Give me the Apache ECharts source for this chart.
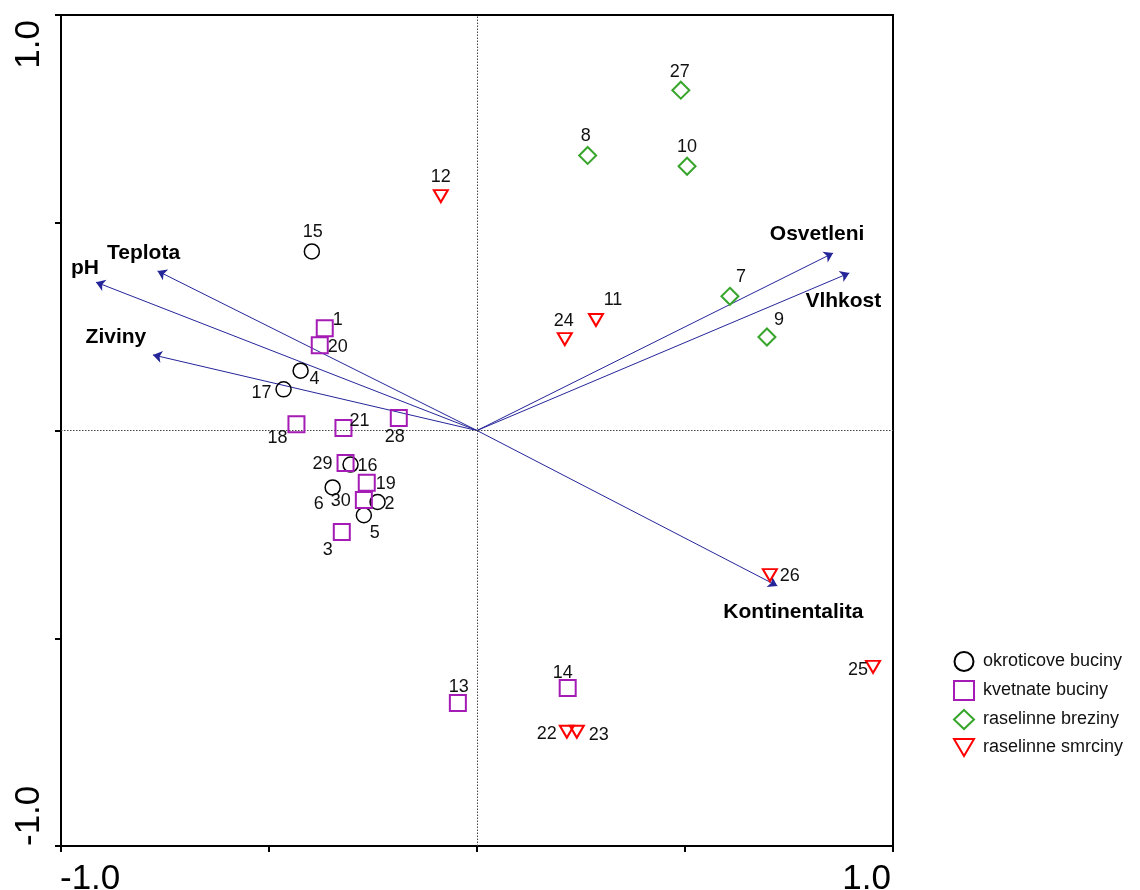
<!DOCTYPE html>
<html>
<head>
<meta charset="utf-8">
<script src="https://cdn.jsdelivr.net/npm/echarts@6/dist/echarts.min.js"></script>
<style>
html,body{margin:0;padding:0;background:#fff;}
#chart{width:1140px;height:890px;}
</style>
</head>
<body>
<div id="chart"></div>
<script>
// ---- data ----
const groupNames = ['okroticove buciny', 'kvetnate buciny', 'raselinne breziny', 'raselinne smrciny'];

const okrIds = ['15', '4', '17', '16', '6', '2', '5'];
const okrX = [-0.397, -0.424, -0.465, -0.304, -0.347, -0.239, -0.272];
const okrY = [0.431, 0.144, 0.099, -0.082, -0.137, -0.172, -0.204];

const kvtIds = ['1', '20', '18', '21', '28', '29', '19', '30', '3', '13', '14'];
const kvtX = [-0.366, -0.378, -0.434, -0.321, -0.188, -0.316, -0.265, -0.272, -0.325, -0.046, 0.218];
const kvtY = [0.246, 0.205, 0.015, 0.006, 0.030, -0.078, -0.126, -0.167, -0.244, -0.656, -0.620];

const brzIds = ['27', '8', '10', '7', '9'];
const brzX = [0.490, 0.266, 0.505, 0.608, 0.697];
const brzY = [0.819, 0.662, 0.636, 0.323, 0.225];

const smrIds = ['12', '11', '24', '26', '25', '22', '23'];
const smrX = [-0.087, 0.286, 0.211, 0.704, 0.952, 0.216, 0.240];
const smrY = [0.564, 0.266, 0.220, -0.348, -0.569, -0.725, -0.725];

const envNames = ['Teplota', 'pH', 'Ziviny', 'Osvetleni', 'Vlhkost', 'Kontinentalita'];
const envX = [-0.768, -0.916, -0.779, 0.856, 0.895, 0.722];
const envY = [0.384, 0.357, 0.182, 0.427, 0.379, -0.374];

const axisMin = -1, axisMax = 1, axisStep = 0.5;
const tickLabels = ['-1.0', '1.0'];

// ---- layout (label offsets in px, relative to the mark) ----
const labelOffset = {
  '15': [1, -19], '4': [14, 8], '17': [-22, 4], '16': [17, 1], '6': [-14, 17], '2': [12, 2], '5': [11, 18],
  '1': [13, -8], '20': [18, 2], '18': [-19, 14], '21': [16, -7], '28': [-4, 19], '29': [-23, 1],
  '19': [19, 1], '30': [-23, 1], '3': [-14, 18], '13': [1, -16], '14': [-5, -15],
  '27': [-1, -18], '8': [-2, -19], '10': [0, -19], '7': [11, -19], '9': [12, -17],
  '12': [0, -19], '11': [17, -20], '24': [-1, -18], '26': [20, 1], '25': [-15, 3], '22': [-20, 2], '23': [22, 3]
};
const envLabelOffset = {
  'Teplota': [-14, -18], 'pH': [-11, -14], 'Ziviny': [-37, -18],
  'Osvetleni': [-16, -19], 'Vlhkost': [-6, 28], 'Kontinentalita': [16, 26]
};

const FONT = '"Liberation Sans", Arial, sans-serif';
const ptLabel = {show: true, position: 'inside', fontSize: 18, fontFamily: FONT, color: '#111', textBorderWidth: 0, opacity: 1};

function pts(ids, xs, ys) {
  return ids.map((id, i) => ({
    value: [xs[i], ys[i]], name: id,
    label: {offset: labelOffset[id] || [0, -18]}
  }));
}

const groupStyles = [
  {symbol: 'circle', size: 15, color: '#000000', rotate: 0, bw: 1.5, icon: 'circle'},
  {symbol: 'rect', size: 16, color: '#a51bb5', rotate: 0, bw: 2, icon: 'rect'},
  {symbol: 'diamond', size: 17, color: '#37a52b', rotate: 0, bw: 2, icon: 'diamond'},
  {symbol: 'triangle', size: [14, 12], color: '#ff0000', rotate: 180, bw: 2, icon: 'path://M0,0L20,0L10,17Z'}
];
const groupData = [
  pts(okrIds, okrX, okrY),
  pts(kvtIds, kvtX, kvtY),
  pts(brzIds, brzX, brzY),
  pts(smrIds, smrX, smrY)
];

const chart = echarts.init(document.getElementById('chart'), null, {renderer: 'canvas'});

const series = [];
// zero lines (dotted)
series.push({
  type: 'scatter', data: [], silent: true,
  markLine: {
    silent: true, symbol: 'none', animation: false,
    label: {show: false},
    lineStyle: {type: [1.5, 1.5], color: '#444', width: 1},
    data: [{xAxis: 0}, {yAxis: 0}]
  }
});
// arrows
series.push({
  type: 'lines', coordinateSystem: 'cartesian2d', silent: true, z: 3,
  symbol: ['none', 'arrow'], symbolSize: [7, 9],
  lineStyle: {color: '#25259a', width: 1, opacity: 1},
  data: envNames.map((n, i) => ({coords: [[0, 0], [envX[i], envY[i]]]}))
});
// arrow labels
series.push({
  type: 'scatter', symbolSize: 0, silent: true, z: 4,
  itemStyle: {color: '#000'},
  data: envNames.map((n, i) => ({value: [envX[i], envY[i]], name: n, label: {offset: envLabelOffset[n]}})),
  label: {show: true, position: 'inside', formatter: p => p.name, fontSize: 21, fontWeight: 'bold', fontFamily: FONT, color: '#000', textBorderWidth: 0, opacity: 1}
});
groupNames.forEach((g, k) => {
  const st = groupStyles[k];
  series.push({
    name: g, type: 'scatter', z: 5,
    symbol: st.symbol, symbolSize: st.size, symbolRotate: st.rotate,
    itemStyle: {color: 'rgba(255,255,255,0)', borderColor: st.color, borderWidth: st.bw, opacity: 1},
    label: Object.assign({formatter: p => p.name}, ptLabel),
    emphasis: {disabled: true},
    data: groupData[k]
  });
});

const option = {
  animation: false,
  backgroundColor: '#fff',
  grid: {left: 61, top: 15, width: 832, height: 831, show: true, borderColor: '#000', borderWidth: 2, backgroundColor: 'transparent', containLabel: false},
  xAxis: {
    type: 'value', min: axisMin, max: axisMax, interval: axisStep, position: 'bottom',
    axisLine: {show: true, onZero: false, lineStyle: {color: '#000', width: 2}},
    axisTick: {show: true, length: 6, inside: false, lineStyle: {color: '#000', width: 2}},
    axisLabel: {show: false}, splitLine: {show: false}
  },
  yAxis: {
    type: 'value', min: axisMin, max: axisMax, interval: axisStep, position: 'left',
    axisLine: {show: true, onZero: false, lineStyle: {color: '#000', width: 2}},
    axisTick: {show: true, length: 6, inside: false, lineStyle: {color: '#000', width: 2}},
    axisLabel: {show: false}, splitLine: {show: false}
  },
  legend: {
    data: groupNames.map((g, k) => ({name: g, icon: groupStyles[k].icon})),
    orient: 'vertical', left: 953, top: 651, padding: 0,
    itemWidth: 20, itemHeight: 19, itemGap: 8,
    textStyle: {fontSize: 18, fontFamily: FONT, color: '#111', lineHeight: 19, padding: [0, 0, 0, 4]},
    selectedMode: false
  },
  series: series
};
chart.setOption(option);

// tick labels placed at axis ends, aligned inward
const pMin = chart.convertToPixel({gridIndex: 0}, [axisMin, axisMin]);
const pMax = chart.convertToPixel({gridIndex: 0}, [axisMax, axisMax]);
const tickFont = '35px ' + FONT;
chart.setOption({
  graphic: [
    {type: 'text', x: pMin[0] - 1, y: pMin[1] + 16, style: {text: tickLabels[0], font: tickFont, fill: '#000', align: 'left', verticalAlign: 'top', textAlign: 'left', textVerticalAlign: 'top'}},
    {type: 'text', x: pMax[0] - 2, y: pMin[1] + 16, style: {text: tickLabels[1], font: tickFont, fill: '#000', align: 'right', verticalAlign: 'top', textAlign: 'right', textVerticalAlign: 'top'}},
    {type: 'text', x: 29, y: pMax[1] + 5, rotation: Math.PI / 2, style: {text: tickLabels[1], font: tickFont, fill: '#000', align: 'right', verticalAlign: 'middle', textAlign: 'right', textVerticalAlign: 'middle'}},
    {type: 'text', x: 29, y: pMin[1], rotation: Math.PI / 2, style: {text: tickLabels[0], font: tickFont, fill: '#000', align: 'left', verticalAlign: 'middle', textAlign: 'left', textVerticalAlign: 'middle'}}
  ]
});
</script>
</body>
</html>
